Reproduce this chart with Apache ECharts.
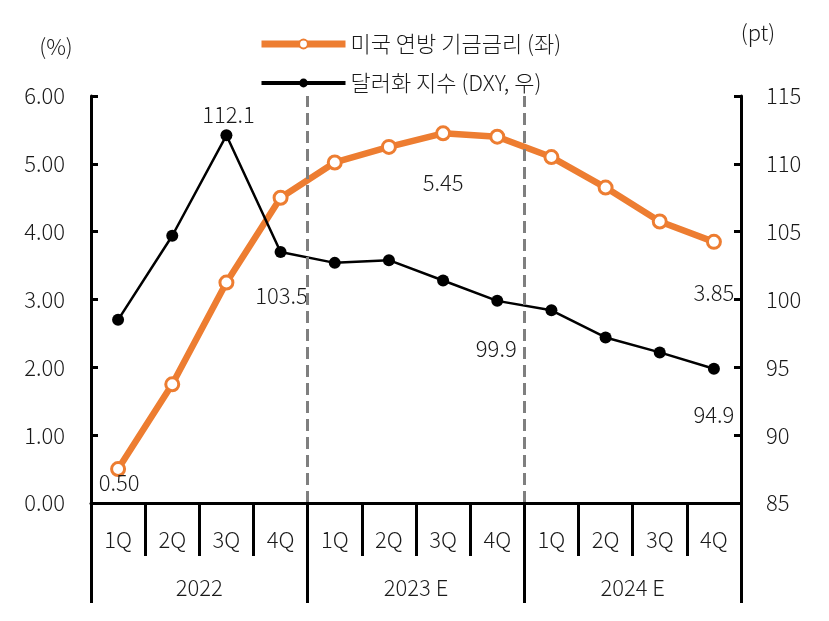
<!DOCTYPE html>
<html>
<head>
<meta charset="utf-8">
<script src="https://cdn.jsdelivr.net/npm/echarts@6/dist/echarts.min.js"></script>
<style>
html,body{margin:0;padding:0;background:#fff;}
#chart{width:829px;height:621px;}
</style>
</head>
<body>
<div id="chart"></div>
<script>
var years = ['2022', '2023 E', '2024 E'];
var quarters = ['1Q', '2Q', '3Q', '4Q'];
var fedRate = [0.50, 1.75, 3.25, 4.50, 5.02, 5.25, 5.45, 5.40, 5.10, 4.65, 4.15, 3.85];
var dxy = [98.5, 104.7, 112.1, 103.5, 102.7, 102.9, 101.4, 99.9, 99.2, 97.2, 96.1, 94.9];
var leftTicks = {min: 0, max: 6, interval: 1};
var rightTicks = {min: 85, max: 115, interval: 5};
var dividers = [4, 8];
var fedName = '미국 연방 기금금리 (좌)';
var dxyName = '달러화 지수 (DXY, 우)';

var categories = [];
years.forEach(function (y) { quarters.forEach(function (q) { categories.push(y + '|' + q); }); });

var FONT = "'Noto Sans CJK KR Light', 'Noto Sans CJK KR', sans-serif";
var FW = 300;
var FS = 22;
var TXT = '#1a1a1a';
var ORANGE = '#ED7D31';

// label placement (style only): index -> offset relative to marker centre
var fedLabels = {0: [1, 14], 6: [0, 49], 11: [0, 51]};
var dxyLabels = {2: [2, -21], 3: [1, 44], 7: [-1, 48], 11: [0, 46]};

function build(values, labels, digits) {
  return values.map(function (v, i) {
    var item = {value: v};
    if (labels[i]) {
      item.label = {
        show: true, position: 'inside', offset: labels[i],
        formatter: function (p) { return Number(p.value).toFixed(digits); },
        color: TXT, fontSize: FS, fontFamily: FONT, fontWeight: FW
      };
    }
    return item;
  });
}

var chart = echarts.init(document.getElementById('chart'), null, {renderer: 'canvas'});
chart.setOption({
  animation: false,
  backgroundColor: '#fff',
  textStyle: {fontFamily: FONT, color: TXT, fontWeight: FW},
  legend: {
    orient: 'vertical', left: 253, top: 28, itemWidth: 84, itemHeight: 11, itemGap: 17,
    textStyle: {fontSize: FS, fontFamily: FONT, fontWeight: FW, color: TXT},
    data: [
      {name: fedName, lineStyle: {width: 7, color: ORANGE}},
      {name: dxyName, lineStyle: {width: 4, color: '#000'}}
    ]
  },
  grid: {left: 91, right: 88, top: 96, bottom: 118, containLabel: false},
  xAxis: [
    {
      type: 'category', data: categories, position: 'bottom', boundaryGap: true,
      axisLine: {show: true, onZero: false, lineStyle: {color: '#000', width: 3}},
      axisTick: {show: true, interval: 0, length: 53, lineStyle: {color: '#000', width: 3}},
      axisLabel: {interval: 0, margin: 26, fontSize: FS, fontFamily: FONT, fontWeight: FW, color: TXT,
        formatter: function (v) { return v.split('|')[1]; }},
      splitLine: {show: false}, z: 10
    },
    {
      type: 'category', data: years, position: 'bottom', boundaryGap: true,
      axisLine: {show: false},
      axisTick: {show: true, interval: 0, length: 100, lineStyle: {color: '#000', width: 3}},
      axisLabel: {interval: 0, margin: 74, fontSize: FS, fontFamily: FONT, fontWeight: FW, color: TXT},
      splitLine: {show: false}
    },
    {type: 'value', min: 0, max: 12, show: false}
  ],
  yAxis: [
    {
      type: 'value', min: leftTicks.min, max: leftTicks.max, interval: leftTicks.interval, position: 'left',
      name: '(%)', nameLocation: 'end', nameGap: 38,
      nameTextStyle: {fontSize: FS, fontFamily: FONT, fontWeight: FW, color: TXT, align: 'center', padding: [0, 70, 0, 0]},
      axisLine: {show: true, lineStyle: {color: '#000', width: 3}},
      axisTick: {show: true, inside: true, length: 7, lineStyle: {color: '#000', width: 3}},
      axisLabel: {margin: 26, fontSize: FS, fontFamily: FONT, fontWeight: FW, color: TXT,
        formatter: function (v) { return v.toFixed(2); }},
      splitLine: {show: false}
    },
    {
      type: 'value', min: rightTicks.min, max: rightTicks.max, interval: rightTicks.interval, position: 'right',
      name: '(pt)', nameLocation: 'end', nameGap: 52,
      nameTextStyle: {fontSize: FS, fontFamily: FONT, fontWeight: FW, color: TXT, align: 'center', padding: [0, 0, 0, 34]},
      axisLine: {show: true, lineStyle: {color: '#000', width: 3}},
      axisTick: {show: true, inside: true, length: 7, lineStyle: {color: '#000', width: 3}},
      axisLabel: {margin: 25, fontSize: FS, fontFamily: FONT, fontWeight: FW, color: TXT},
      splitLine: {show: false}
    }
  ],
  series: [
    {
      name: '__dividers', type: 'line', xAxisIndex: 2, yAxisIndex: 0, data: [],
      silent: true,
      markLine: {
        silent: true, symbol: 'none', label: {show: false},
        lineStyle: {color: '#7f7f7f', width: 3, type: [12, 6]},
        data: dividers.map(function (d) { return {xAxis: d}; })
      }
    },
    {
      name: fedName, type: 'line', xAxisIndex: 0, yAxisIndex: 0,
      data: build(fedRate, fedLabels, 2),
      symbol: 'circle', symbolSize: 13, showAllSymbol: true,
      lineStyle: {color: ORANGE, width: 6.5},
      itemStyle: {color: '#fff', borderColor: ORANGE, borderWidth: 3},
      label: {show: false}, z: 3
    },
    {
      name: dxyName, type: 'line', xAxisIndex: 0, yAxisIndex: 1,
      data: build(dxy, dxyLabels, 1),
      symbol: 'circle', symbolSize: 12, showAllSymbol: true,
      lineStyle: {color: '#000', width: 2.5},
      itemStyle: {color: '#000'},
      label: {show: false}, z: 4
    }
  ]
});
</script>
</body>
</html>
